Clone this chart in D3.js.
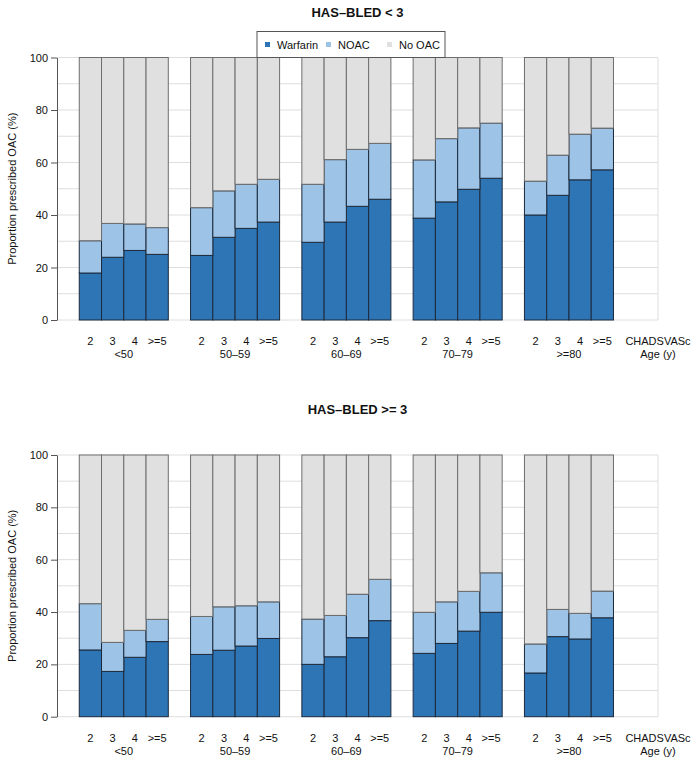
<!DOCTYPE html>
<html>
<head>
<meta charset="utf-8">
<script src="https://cdn.jsdelivr.net/npm/d3@7"></script>
<style>
  html, body { margin: 0; padding: 0; background: #fff; }
  svg { display: block; font-family: "Liberation Sans", Arial, Helvetica, sans-serif; }
</style>
</head>
<body>
<svg id="chart" width="697" height="763"></svg>
<script>
// ---- data ----
const ageGroups = ["<50", "50–59", "60–69", "70–79", ">=80"];
const chadsLabels = ["2", "3", "4", ">=5"];
const seriesNames = ["Warfarin", "NOAC", "No OAC"];
const yTicks = [0, 20, 40, 60, 80, 100];
const gridTicks = [0, 10, 20, 30, 40, 50, 60, 70, 80, 90, 100];

// HAS-BLED < 3 (percent), ordered by age group then CHADSVASc
const warfarinLow = [17.9, 23.9, 26.5, 25.0,  24.6, 31.5, 34.9, 37.3,  29.6, 37.3, 43.3, 46.0,  38.8, 45.0, 49.8, 54.0,  40.0, 47.5, 53.4, 57.2];
const noacLow     = [12.3, 12.9, 10.1, 10.2,  18.2, 17.7, 16.8, 16.3,  22.1, 23.8, 21.7, 21.3,  22.2, 24.1, 23.4, 21.0,  12.9, 15.3, 17.4, 15.9];
// HAS-BLED >= 3
const warfarinHigh = [25.5, 17.3, 22.7, 28.7,  23.8, 25.4, 27.0, 29.9,  20.0, 22.9, 30.2, 36.7,  24.2, 28.0, 32.7, 39.9,  16.7, 30.6, 29.7, 37.8];
const noacHigh     = [17.7, 11.1, 10.3,  8.5,  14.5, 16.6, 15.4, 14.0,  17.3, 15.8, 16.6, 15.8,  15.7, 15.9, 15.2, 15.1,  11.1, 10.4,  9.8, 10.2];

const colors = ["#2e75b6", "#9dc3e6", "#e0e0e0"];
const strokes = ["#1c2a3c", "#1c2a3c", "#6e6e6e"];

const svg = d3.select("#chart");

// bar units: 1 space, then 5 groups of 4 bars separated by 1 space, plus 2 trailing units
const x = d3.scaleLinear().domain([0, 27]).range([57, 658]);
const unit = x(1) - x(0);
function barStart(g, i) { return 1 + g * 5 + i; }

function panel(cfg) {
  const y = d3.scaleLinear().domain([0, 100]).range([cfg.bottom, cfg.top]);
  const gEl = svg.append("g");

  // grid
  gEl.append("g").selectAll("line").data(gridTicks).join("line")
    .attr("x1", x(0)).attr("x2", x(27))
    .attr("y1", d => y(d)).attr("y2", d => y(d))
    .attr("stroke", "#dedede").attr("stroke-width", 1);
  gEl.append("line")
    .attr("x1", x(27)).attr("x2", x(27))
    .attr("y1", y(0)).attr("y2", y(100))
    .attr("stroke", "#dedede");

  // stacked data
  const rows = cfg.warf.map((w, k) => ({ g: Math.floor(k / 4), i: k % 4, vals: [w, cfg.noac[k], 100 - w - cfg.noac[k]] }));
  const segs = [];
  rows.forEach(r => {
    let base = 0;
    r.vals.forEach((v, s) => { segs.push({ g: r.g, i: r.i, s, y0: base, y1: base + v }); base += v; });
  });
  segs.sort((a, b) => b.s - a.s === 0 ? 0 : a.s - b.s);

  gEl.append("g").selectAll("rect").data(segs).join("rect")
    .attr("x", d => x(barStart(d.g, d.i)))
    .attr("width", unit)
    .attr("y", d => y(d.y1))
    .attr("height", d => y(d.y0) - y(d.y1))
    .attr("fill", d => colors[d.s])
    .attr("stroke", d => strokes[d.s])
    .attr("stroke-width", 1);

  // y axis
  const ax = gEl.append("g").attr("transform", `translate(${x(0)},0)`)
    .call(d3.axisLeft(y).tickValues(yTicks).tickSize(6).tickPadding(3).tickSizeOuter(0));
  ax.select(".domain").attr("stroke", "#555");
  ax.selectAll(".tick line").attr("stroke", "#555");
  ax.selectAll(".tick text").attr("font-size", 11).attr("fill", "#111").attr("font-family", null);

  // y label
  gEl.append("text")
    .attr("transform", `translate(16,${(cfg.top + cfg.bottom) / 2}) rotate(-90)`)
    .attr("text-anchor", "middle").attr("font-size", 11).attr("fill", "#111")
    .text("Proportion prescribed OAC (%)");

  // x labels
  const chadsY = cfg.bottom + 25;
  const ageY = cfg.bottom + 38;
  const lab = gEl.append("g").attr("font-size", 11).attr("fill", "#111").attr("text-anchor", "middle");
  rows.forEach(r => {
    lab.append("text").attr("x", x(barStart(r.g, r.i) + 0.5)).attr("y", chadsY).text(chadsLabels[r.i]);
  });
  ageGroups.forEach((a, g) => {
    lab.append("text").attr("x", x(barStart(g, 2))).attr("y", ageY).text(a);
  });
  lab.append("text").attr("x", x(27)).attr("y", chadsY).text("CHADSVASc");
  lab.append("text").attr("x", x(27)).attr("y", ageY).text("Age (y)");

  // title
  svg.append("text").attr("x", (x(0) + x(27)) / 2).attr("y", cfg.titleY)
    .attr("text-anchor", "middle").attr("font-size", 13).attr("font-weight", "bold")
    .attr("fill", "#111").text(cfg.title);

  return y;
}

panel({ top: 57.5, bottom: 320, warf: warfarinLow, noac: noacLow, title: "HAS–BLED < 3", titleY: 17 });
panel({ top: 455, bottom: 716.7, warf: warfarinHigh, noac: noacHigh, title: "HAS–BLED >= 3", titleY: 414 });

// legend (top panel)
const leg = svg.append("g");
leg.append("rect").attr("x", 257).attr("y", 31.5).attr("width", 188).attr("height", 26)
  .attr("fill", "#fff").attr("stroke", "#555").attr("stroke-width", 1);
const legX = [265, 326, 387];
seriesNames.forEach((n, s) => {
  leg.append("rect").attr("x", legX[s]).attr("y", 42).attr("width", 5).attr("height", 5).attr("fill", colors[s]);
  leg.append("text").attr("x", legX[s] + 12).attr("y", 48.5).attr("font-size", 11).attr("fill", "#111").text(n);
});
</script>
</body>
</html>
